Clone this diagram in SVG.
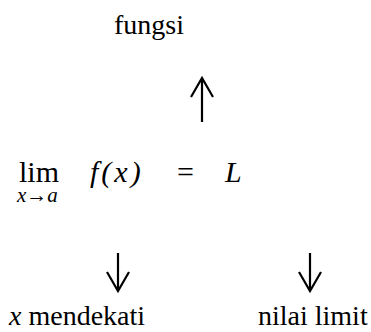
<svg xmlns="http://www.w3.org/2000/svg" width="371" height="332" viewBox="0 0 371 332">
<rect width="371" height="332" fill="#fff"/>
<g id="fungsi"><text x="114" y="34" font-family="Liberation Serif" font-size="28">fungsi</text></g>
<g id="formula">
<text x="19" y="182" font-family="Liberation Serif" font-size="30">lim</text>
<text x="17" y="202" font-family="Liberation Serif" font-size="21"><tspan font-style="italic">x</tspan>&#8594;<tspan font-style="italic">a</tspan></text>
<text x="90" y="182" font-family="Liberation Serif" font-size="30" font-style="italic" letter-spacing="3">f(x)</text>
<text x="177" y="182" font-family="Liberation Serif" font-size="30">=</text>
<text x="225" y="182" font-family="Liberation Serif" font-size="30" font-style="italic">L</text>
</g>
<g id="x-mendekati"><text x="9" y="325" font-family="Liberation Serif" font-size="28"><tspan font-style="italic">x</tspan> mendekati</text></g>
<g id="nilai-limit"><text x="258" y="325" font-family="Liberation Serif" font-size="28">nilai limit</text></g>
<g id="connectors" stroke="#000" stroke-width="2.2" fill="none">
<path d="M202 122V78M191 97L202 78L213 97"/>
<path d="M118 253V291M107 272L118 291L129 272"/>
<path d="M310 253V291M299 272L310 291L321 272"/>
</g>
</svg>
